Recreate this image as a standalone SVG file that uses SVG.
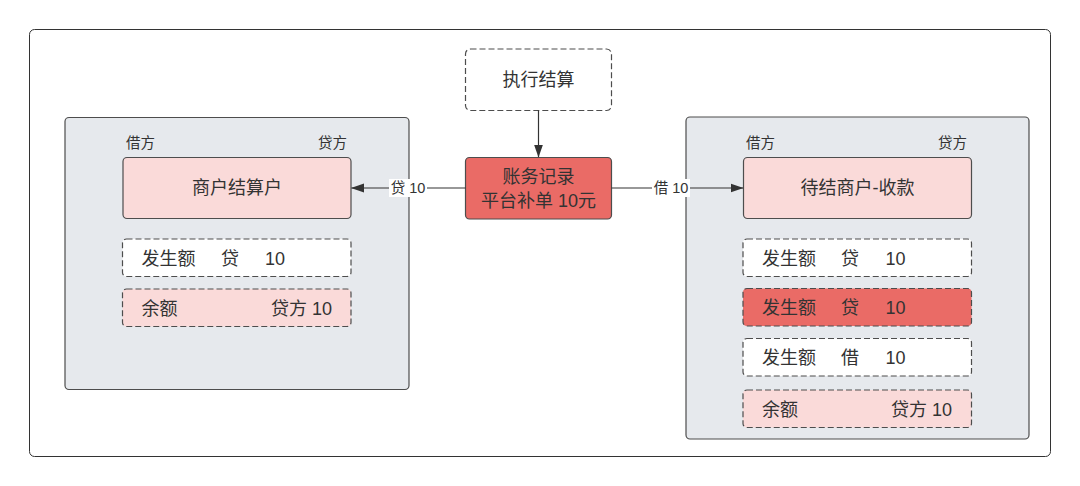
<svg xmlns="http://www.w3.org/2000/svg" width="1080" height="486" viewBox="0 0 1080 486">
<defs>
<style>
text{font-family:"Liberation Sans","Noto Sans CJK SC",sans-serif;fill:#333333}
.frame{fill:#ffffff;stroke:#333333;stroke-width:1}
.cont{fill:#E6E9ED;stroke:#4D4D4D;stroke-width:1.2}
.title{fill:#FADAD9;stroke:#4D4D4D;stroke-width:1.2}
.dash{stroke:#4D4D4D;stroke-width:1.2;stroke-dasharray:6 3}
.white{fill:#ffffff}
.pink{fill:#FADAD9}
.red{fill:#EA6B66}
.t18{font-size:18px}
.t14{font-size:14.5px}
.mid{text-anchor:middle}
.end{text-anchor:end}
.edge{stroke:#333333;stroke-width:1.2;fill:none}
</style>
<marker id="arr" viewBox="0 0 13 10" refX="12.5" refY="5" markerWidth="13" markerHeight="10" markerUnits="userSpaceOnUse" orient="auto">
<path d="M0,0.5 L13,5 L0,9.5 Z" fill="#333333"/>
</marker>
</defs>
<rect x="0" y="0" width="1080" height="486" fill="#ffffff"/>
<rect class="frame" x="29.5" y="29.5" width="1021" height="427" rx="5"/>

<g id="left-account">
<rect class="cont" x="65" y="117.5" width="344" height="272" rx="4"/>
<text class="t14" x="126" y="148">借方</text>
<text class="t14 end" x="347" y="148">贷方</text>
<g id="left-title">
<rect class="title" x="123" y="157.5" width="228" height="61" rx="4"/>
<text class="t18 mid" x="237" y="194">商户结算户</text>
</g>
<g id="left-row1">
<rect class="dash white" x="122.5" y="239" width="228.5" height="37.5" rx="4"/>
<text class="t18" y="264.5"><tspan x="141.5">发生额</tspan><tspan x="221">贷</tspan><tspan x="265">10</tspan></text>
</g>
<g id="left-row2">
<rect class="dash pink" x="122.5" y="289" width="228.5" height="37.5" rx="4"/>
<text class="t18" y="314.5"><tspan x="141.5">余额</tspan></text>
<text class="t18 end" x="332" y="314.5">贷方 10</text>
</g>
</g>

<g id="trigger">
<rect class="dash white" x="465.5" y="49" width="146" height="61.5" rx="5"/>
<text class="t18 mid" x="538.5" y="86">执行结算</text>
</g>

<g id="record">
<rect x="465.5" y="157.5" width="146" height="61.5" rx="4" fill="#EA6B66" stroke="#4D4D4D" stroke-width="1.2"/>
<text class="t18 mid" x="538.5" y="183">账务记录</text>
<text class="t18 mid" x="538.5" y="207">平台补单 10元</text>
</g>

<g id="right-account">
<rect class="cont" x="686" y="117" width="343" height="322" rx="4"/>
<text class="t14" x="746" y="147.5">借方</text>
<text class="t14 end" x="967" y="147.5">贷方</text>
<g id="right-title">
<rect class="title" x="743.5" y="157.5" width="228" height="61" rx="4"/>
<text class="t18 mid" x="857.5" y="194">待结商户-收款</text>
</g>
<g id="right-row1">
<rect class="dash white" x="743" y="239" width="228.5" height="37.5" rx="4"/>
<text class="t18" y="264.5"><tspan x="762">发生额</tspan><tspan x="841">贷</tspan><tspan x="885.5">10</tspan></text>
</g>
<g id="right-row2">
<rect class="dash red" x="743" y="288.5" width="228.5" height="37.5" rx="4"/>
<text class="t18" y="314"><tspan x="762">发生额</tspan><tspan x="841">贷</tspan><tspan x="885.5">10</tspan></text>
</g>
<g id="right-row3">
<rect class="dash white" x="743" y="338.5" width="228.5" height="37.5" rx="4"/>
<text class="t18" y="364"><tspan x="762">发生额</tspan><tspan x="841">借</tspan><tspan x="885.5">10</tspan></text>
</g>
<g id="right-row4">
<rect class="dash pink" x="743" y="390" width="228.5" height="37.5" rx="4"/>
<text class="t18" y="415.5"><tspan x="762">余额</tspan></text>
<text class="t18 end" x="952" y="415.5">贷方 10</text>
</g>
</g>

<g id="connectors">
<line class="edge" x1="538.5" y1="110.5" x2="538.5" y2="157" marker-end="url(#arr)"/>
<line class="edge" x1="465.5" y1="188" x2="351.5" y2="188" marker-end="url(#arr)"/>
<rect x="389" y="179" width="38" height="18" fill="#ffffff"/>
<text class="t14 mid" x="408" y="193">贷 10</text>
<line class="edge" x1="611.5" y1="188" x2="743" y2="188" marker-end="url(#arr)"/>
<rect x="652" y="179" width="38" height="18" fill="#ffffff"/>
<text class="t14 mid" x="671" y="193">借 10</text>
</g>
</svg>
